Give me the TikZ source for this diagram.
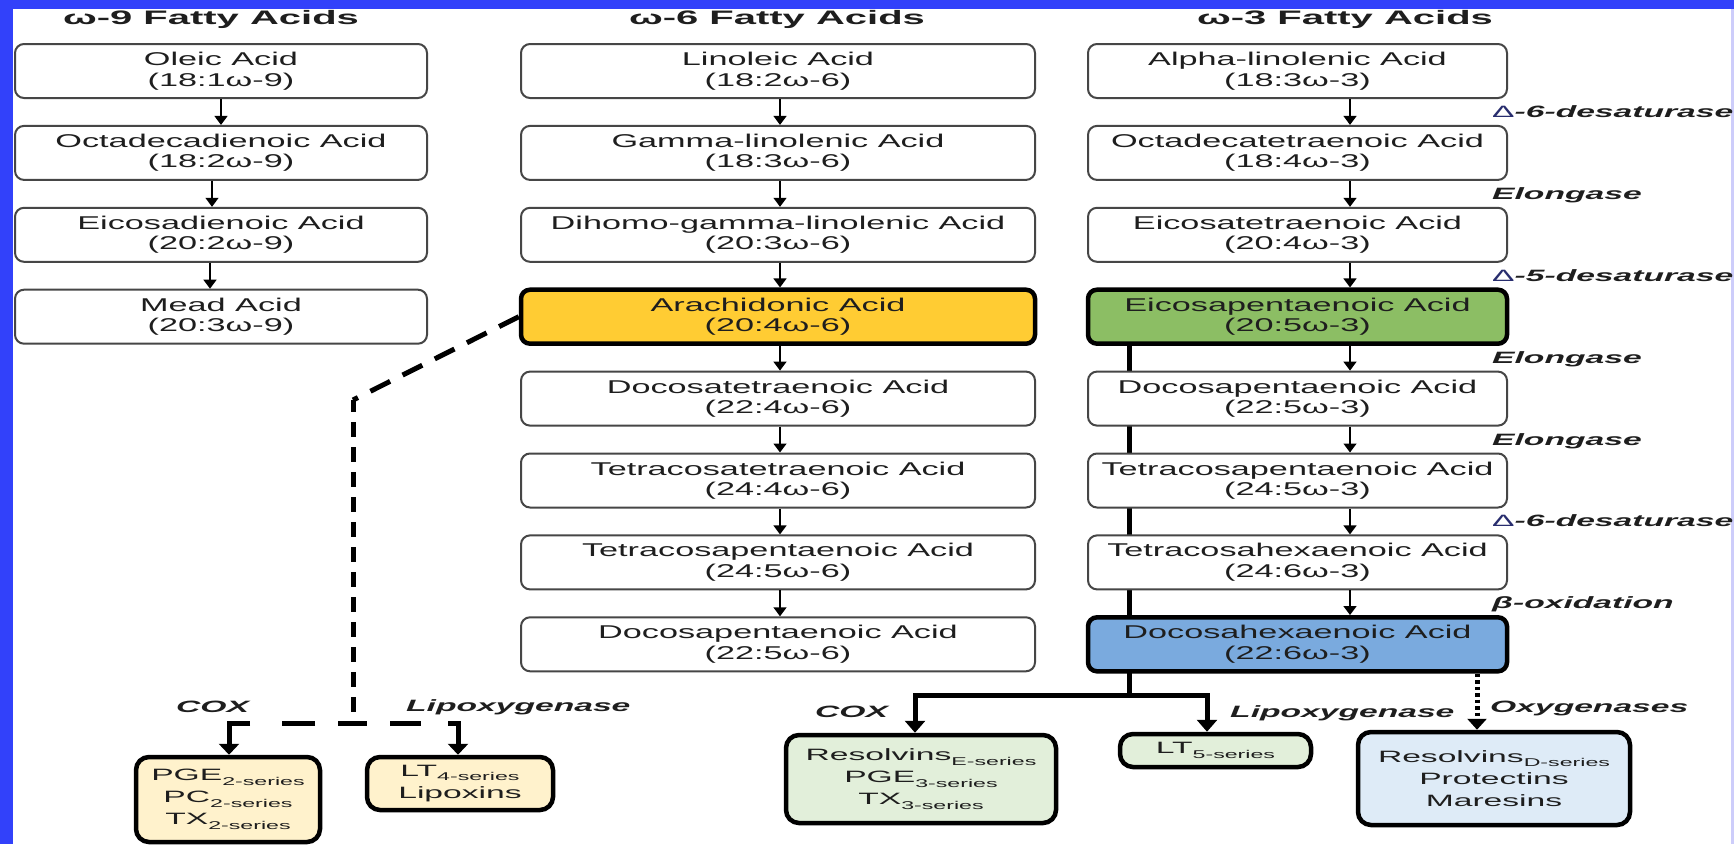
\documentclass[tikz,border=0pt]{standalone}
\usepackage{fontspec}
\setmainfont{Liberation Sans}[FakeStretch=1.85]
\newfontfamily\widefont{Liberation Sans}[FakeStretch=2.05]
\usetikzlibrary{arrows.meta,backgrounds}
\definecolor{frameblue}{RGB}{50,65,250}
\definecolor{edgeblue}{RGB}{205,205,250}
\definecolor{txt}{RGB}{30,30,30}
\definecolor{boxedge}{RGB}{70,70,70}
\definecolor{deltablue}{RGB}{40,45,110}
\definecolor{arayellow}{RGB}{255,204,51}
\definecolor{epagreen}{RGB}{140,190,100}
\definecolor{dhablue}{RGB}{122,170,222}
\definecolor{paleyellow}{RGB}{255,242,204}
\definecolor{palegreen}{RGB}{226,239,218}
\definecolor{paleblue}{RGB}{222,235,247}
\newcommand\ser[1]{\raisebox{-4.5pt}{\fontsize{11.3}{12}\selectfont #1}}
\newcommand\dlt{{\mdseries\upshape\color{deltablue}Δ}}
\tikzset{
  acid/.style={draw=boxedge, line width=2pt, fill=white, rounded corners=9pt,
    minimum height=54pt, inner sep=0pt, align=center, text=txt,
    font=\fontsize{18.5}{20.5}\selectfont},
  keyacid/.style={acid, draw=black, line width=4.5pt},
  colA/.style={minimum width=412pt},
  colB/.style={minimum width=514pt},
  colC/.style={minimum width=419pt},
  product/.style={draw=black, line width=4.5pt, rounded corners=13pt, inner sep=0pt,
    align=center, text=txt, font=\widefont\fontsize{16.4}{22}\selectfont},
  title/.style={font=\widefont\bfseries\fontsize{19.5}{22}\selectfont, text=txt,
    anchor=base, inner sep=0pt},
  enz/.style={font=\widefont\bfseries\itshape\fontsize{16.4}{20}\selectfont, text=txt,
    anchor=base west, inner sep=0pt},
  arr/.style={line width=1.5pt, black, -{Triangle[width=13pt,length=9pt]}},
  thickline/.style={line width=5pt, black},
  thickarr/.style={thickline, -{Triangle[width=20pt,length=12pt]}},
  dline/.style={line width=5pt, black},
  dotline/.style={line width=5pt, black, dash pattern=on 3.5pt off 3pt,
    -{Triangle[width=19pt,length=11pt]}},
}
\begin{document}
\begin{tikzpicture}[x=1pt,y=-1pt]
\useasboundingbox (0,0) rectangle (1734,844);

% titles
\node[title] (t9) at (211,24) {ω-9 Fatty Acids};
\node[title] (t6) at (777,24) {ω-6 Fatty Acids};
\node[title] (t3) at (1345,24) {ω-3 Fatty Acids};

% omega-9 column
\node[acid,colA] (a1) at (221,71) {Oleic Acid\\(18:1ω-9)};
\node[acid,colA] (a2) at (221,152.9) {Octadecadienoic Acid\\(18:2ω-9)};
\node[acid,colA] (a3) at (221,234.8) {Eicosadienoic Acid\\(20:2ω-9)};
\node[acid,colA] (a4) at (221,316.7) {Mead Acid\\(20:3ω-9)};

% omega-6 column
\node[acid,colB] (b1) at (778,71) {Linoleic Acid\\(18:2ω-6)};
\node[acid,colB] (b2) at (778,152.9) {Gamma-linolenic Acid\\(18:3ω-6)};
\node[acid,colB] (b3) at (778,234.8) {Dihomo-gamma-linolenic Acid\\(20:3ω-6)};
\node[keyacid,colB,fill=arayellow] (b4) at (778,316.7) {Arachidonic Acid\\(20:4ω-6)};
\node[acid,colB] (b5) at (778,398.6) {Docosatetraenoic Acid\\(22:4ω-6)};
\node[acid,colB] (b6) at (778,480.5) {Tetracosatetraenoic Acid\\(24:4ω-6)};
\node[acid,colB] (b7) at (778,562.4) {Tetracosapentaenoic Acid\\(24:5ω-6)};
\node[acid,colB] (b8) at (778,644.3) {Docosapentaenoic Acid\\(22:5ω-6)};

% omega-3 column
\node[acid,colC] (c1) at (1297.5,71) {Alpha-linolenic Acid\\(18:3ω-3)};
\node[acid,colC] (c2) at (1297.5,152.9) {Octadecatetraenoic Acid\\(18:4ω-3)};
\node[acid,colC] (c3) at (1297.5,234.8) {Eicosatetraenoic Acid\\(20:4ω-3)};
\node[keyacid,colC,fill=epagreen] (c4) at (1297.5,316.7) {Eicosapentaenoic Acid\\(20:5ω-3)};
\node[acid,colC] (c5) at (1297.5,398.6) {Docosapentaenoic Acid\\(22:5ω-3)};
\node[acid,colC] (c6) at (1297.5,480.5) {Tetracosapentaenoic Acid\\(24:5ω-3)};
\node[acid,colC] (c7) at (1297.5,562.4) {Tetracosahexaenoic Acid\\(24:6ω-3)};
\node[keyacid,colC,fill=dhablue] (c8) at (1297.5,644.3) {Docosahexaenoic Acid\\(22:6ω-3)};

% enzyme labels
\node[enz] (e1) at (1492,117) {\dlt-6-desaturase};
\node[enz] (e2) at (1492,199) {Elongase};
\node[enz] (e3) at (1492,281) {\dlt-5-desaturase};
\node[enz] (e4) at (1492,363) {Elongase};
\node[enz] (e5) at (1492,445) {Elongase};
\node[enz] (e6) at (1492,526) {\dlt-6-desaturase};
\node[enz] (e7) at (1492,608) {β-oxidation};

% products
\node[product,fill=paleyellow,minimum width=184pt,minimum height=85pt] (pge2) at (228,799.5)
  {PGE\ser{2-series}\\PC\ser{2-series}\\TX\ser{2-series}};
\node[product,fill=paleyellow,minimum width=186pt,minimum height=53pt] (lt4) at (460,783.5)
  {LT\ser{4-series}\\Lipoxins};
\node[product,fill=palegreen,minimum width=270pt,minimum height=88pt] (rese) at (921,779)
  {Resolvins\ser{E-series}\\PGE\ser{3-series}\\TX\ser{3-series}};
\node[product,fill=palegreen,minimum width=191pt,minimum height=33pt] (lt5) at (1215.5,750.5)
  {LT\ser{5-series}};
\node[product,fill=paleblue,minimum width=272pt,minimum height=93pt] (resd) at (1494,778.5)
  {Resolvins\ser{D-series}\\Protectins\\Maresins};

% pathway labels
\node[enz] (coxl) at (176,712) {COX};
\node[enz] (lipl) at (406,711) {Lipoxygenase};
\node[enz] (coxr) at (815,717) {COX};
\node[enz] (lipr) at (1230,717) {Lipoxygenase};
\node[enz] (oxyr) at (1490,712) {Oxygenases};

% background: page, frame and the thick trunk behind the omega-3 boxes
\begin{scope}[on background layer]
  \fill[white] (0,0) rectangle (1734,844);
  \fill[frameblue] (0,0) rectangle (13,844);
  \fill[frameblue] (0,0) rectangle (1734,9);
  \fill[edgeblue] (1731,9) rectangle (1734,844);
  \coordinate (tj) at (1129,695);
  \draw[thickline] (c4.south -| tj) -- (tj);
\end{scope}

% column arrows
\draw[arr] (a1.south) -- (a2.north);
\draw[arr] ([xshift=-9pt]a2.south) -- ([xshift=-9pt]a3.north);
\draw[arr] ([xshift=-11pt]a3.south) -- ([xshift=-11pt]a4.north);
\foreach \u/\v in {b1/b2,b2/b3,b3/b4,b4/b5,b5/b6,b6/b7,b7/b8}
  \draw[arr] ([xshift=2pt]\u.south) -- ([xshift=2pt]\v.north);
\foreach \u/\v in {c1/c2,c2/c3,c3/c4,c4/c5,c5/c6,c6/c7,c7/c8}
  \draw[arr] ([xshift=52.5pt]\u.south) -- ([xshift=52.5pt]\v.north);

% omega-3 branches
\coordinate (tl) at (915,695);
\coordinate (tr) at (1207,695);
\draw[thickarr] (tj) -- (tl) -- (tl |- rese.north);
\draw[thickarr] (tj) -- (tr) -- (tr |- lt5.north);
\coordinate (ox) at (1477,0);
\draw[dotline] (c8.south -| ox) -- (ox |- resd.north);

% omega-6 dashed branches
\coordinate (dc) at (353,400);
\coordinate (dj) at (353,723);
\coordinate (dl) at (229,723);
\coordinate (dr) at (458,723);
\draw[dline, dash pattern=on 22pt off 14pt] (b4.west) -- (dc);
\draw[dline, dash pattern=on 15pt off 10pt, dash phase=3pt] (dc) -- (dj);
\draw[dline, dash pattern=on 15pt off 23pt on 33pt off 32pt on 200pt,
  -{Triangle[width=20pt,length=11pt]}] (dj) -- (dl) -- (dl |- pge2.north);
\draw[dline, dash pattern=on 14pt off 23pt on 31pt off 27pt on 200pt,
  -{Triangle[width=20pt,length=11pt]}] (dj) -- (dr) -- (dr |- lt4.north);
\end{tikzpicture}
\end{document}
